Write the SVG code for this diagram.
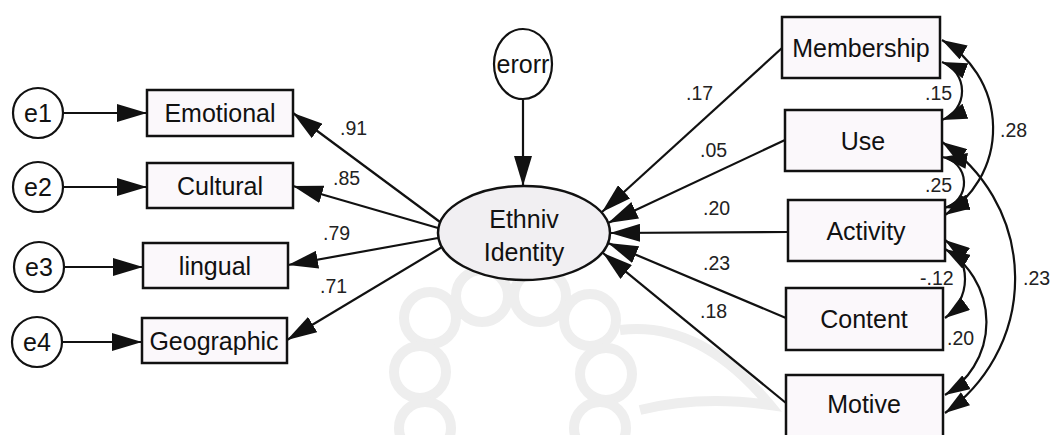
<svg xmlns="http://www.w3.org/2000/svg" width="1050" height="435" viewBox="0 0 1050 435">
<defs>
<style>
.box{fill:#fbf8fb;stroke:#111;stroke-width:2.5}
.circ{fill:#fff;stroke:#111;stroke-width:2.2}
.lat{fill:#f1eff2;stroke:#111;stroke-width:2.5}
.lbl{font-family:"Liberation Sans",Arial,sans-serif;font-size:25px;fill:#111;text-anchor:middle}
.num{font-family:"Liberation Sans",Arial,sans-serif;font-size:19.5px;fill:#222}
.ln{fill:none;stroke:#111;stroke-width:2.2}
.wm{fill:none;stroke:#eeeeee;stroke-width:10}
</style>
<marker id="ah" markerUnits="userSpaceOnUse" markerWidth="30" markerHeight="18" refX="30" refY="9" orient="auto-start-reverse">
<path d="M0,0 L30,9 L0,18 Z" fill="#111"/>
</marker>
<marker id="ac" markerUnits="userSpaceOnUse" markerWidth="25" markerHeight="16" refX="25" refY="8" orient="auto-start-reverse">
<path d="M0,0 L25,8 L0,16 Z" fill="#111"/>
</marker>
</defs>
<rect width="1050" height="435" fill="#fff"/>
<g id="watermark">
<circle class="wm" cx="430" cy="318" r="26"/>
<circle class="wm" cx="482" cy="296" r="26"/>
<circle class="wm" cx="540" cy="296" r="26"/>
<circle class="wm" cx="590" cy="320" r="26"/>
<circle class="wm" cx="420" cy="372" r="26"/>
<circle class="wm" cx="606" cy="374" r="26"/>
<circle class="wm" cx="425" cy="428" r="26"/>
<circle class="wm" cx="600" cy="428" r="26"/>
<path class="wm" d="M620,330 Q700,320 770,405 Q700,395 640,410"/>
</g>
<g id="connectors">
<line class="ln" x1="63" y1="113" x2="147" y2="113" marker-end="url(#ah)"/>
<line class="ln" x1="63" y1="187" x2="147" y2="187" marker-end="url(#ah)"/>
<line class="ln" x1="64" y1="267" x2="143" y2="267" marker-end="url(#ah)"/>
<line class="ln" x1="62" y1="342" x2="142" y2="342" marker-end="url(#ah)"/>
<line class="ln" x1="523" y1="100" x2="523" y2="186" marker-end="url(#ah)"/>
<line class="ln" x1="440" y1="222" x2="293" y2="113" marker-end="url(#ah)"/>
<line class="ln" x1="438" y1="228" x2="293" y2="186" marker-end="url(#ah)"/>
<line class="ln" x1="438" y1="238" x2="288" y2="265" marker-end="url(#ah)"/>
<line class="ln" x1="442" y1="247" x2="287" y2="340" marker-end="url(#ah)"/>
<line class="ln" x1="782" y1="48" x2="602" y2="212" marker-end="url(#ah)"/>
<line class="ln" x1="785" y1="140" x2="608" y2="223" marker-end="url(#ah)"/>
<line class="ln" x1="788" y1="232" x2="610" y2="233" marker-end="url(#ah)"/>
<line class="ln" x1="786" y1="318" x2="608" y2="243" marker-end="url(#ah)"/>
<line class="ln" x1="786" y1="403" x2="603" y2="253" marker-end="url(#ah)"/>
<path class="ln" d="M942,62 A31,31 0 0 1 942,120" marker-start="url(#ac)" marker-end="url(#ac)"/>
<path class="ln" d="M942,40 A102,102 0 0 1 945,215" marker-start="url(#ac)" marker-end="url(#ac)"/>
<path class="ln" d="M942,157 A26,26 0 0 1 944,208" marker-start="url(#ac)" marker-end="url(#ac)"/>
<path class="ln" d="M942,142 A164,164 0 0 1 945,413" marker-start="url(#ac)" marker-end="url(#ac)"/>
<path class="ln" d="M945,240 A48,48 0 0 1 945,318" marker-start="url(#ac)" marker-end="url(#ac)"/>
<path class="ln" d="M945,249 A85,85 0 0 1 945,395" marker-start="url(#ac)" marker-end="url(#ac)"/>
</g>
<g id="e1"><circle class="circ" cx="38" cy="113" r="25"/><text class="lbl" x="38" y="122">e1</text></g>
<g id="e2"><circle class="circ" cx="38" cy="187" r="25"/><text class="lbl" x="38" y="196">e2</text></g>
<g id="e3"><circle class="circ" cx="39" cy="267" r="25"/><text class="lbl" x="39" y="276">e3</text></g>
<g id="e4"><circle class="circ" cx="37" cy="342" r="25"/><text class="lbl" x="37" y="351">e4</text></g>
<g id="emotional"><rect class="box" x="147" y="90" width="146" height="46"/><text class="lbl" x="220" y="122">Emotional</text></g>
<g id="cultural"><rect class="box" x="147" y="163" width="146" height="45"/><text class="lbl" x="220" y="195">Cultural</text></g>
<g id="lingual"><rect class="box" x="143" y="243" width="145" height="45"/><text class="lbl" x="215" y="275">lingual</text></g>
<g id="geographic"><rect class="box" x="142" y="318" width="145" height="45"/><text class="lbl" x="214" y="350">Geographic</text></g>
<g id="erorr"><ellipse class="circ" cx="523" cy="64" rx="29" ry="35"/><text class="lbl" x="523" y="73">erorr</text></g>
<g id="ethniv"><ellipse class="lat" cx="524" cy="233" rx="86" ry="47"/><text class="lbl" x="524" y="228">Ethniv</text><text class="lbl" x="524" y="261">Identity</text></g>
<g id="membership"><rect class="box" x="782" y="17" width="158" height="61"/><text class="lbl" x="861" y="57">Membership</text></g>
<g id="use"><rect class="box" x="785" y="110" width="157" height="61"/><text class="lbl" x="863" y="150">Use</text></g>
<g id="activity"><rect class="box" x="788" y="200" width="157" height="61"/><text class="lbl" x="866" y="240">Activity</text></g>
<g id="content"><rect class="box" x="786" y="288" width="157" height="62"/><text class="lbl" x="864" y="328">Content</text></g>
<g id="motive"><rect class="box" x="786" y="375" width="157" height="62"/><text class="lbl" x="864" y="413">Motive</text></g>
<g id="labels">
<text class="num" x="340" y="135">.91</text>
<text class="num" x="333" y="185">.85</text>
<text class="num" x="323" y="240">.79</text>
<text class="num" x="320" y="293">.71</text>
<text class="num" x="686" y="100">.17</text>
<text class="num" x="700" y="157">.05</text>
<text class="num" x="703" y="215">.20</text>
<text class="num" x="703" y="270">.23</text>
<text class="num" x="700" y="318">.18</text>
<text class="num" x="925" y="100">.15</text>
<text class="num" x="1000" y="137">.28</text>
<text class="num" x="925" y="192">.25</text>
<text class="num" x="920" y="285">-.12</text>
<text class="num" x="947" y="345">.20</text>
<text class="num" x="1023" y="285">.23</text>
</g>
</svg>
